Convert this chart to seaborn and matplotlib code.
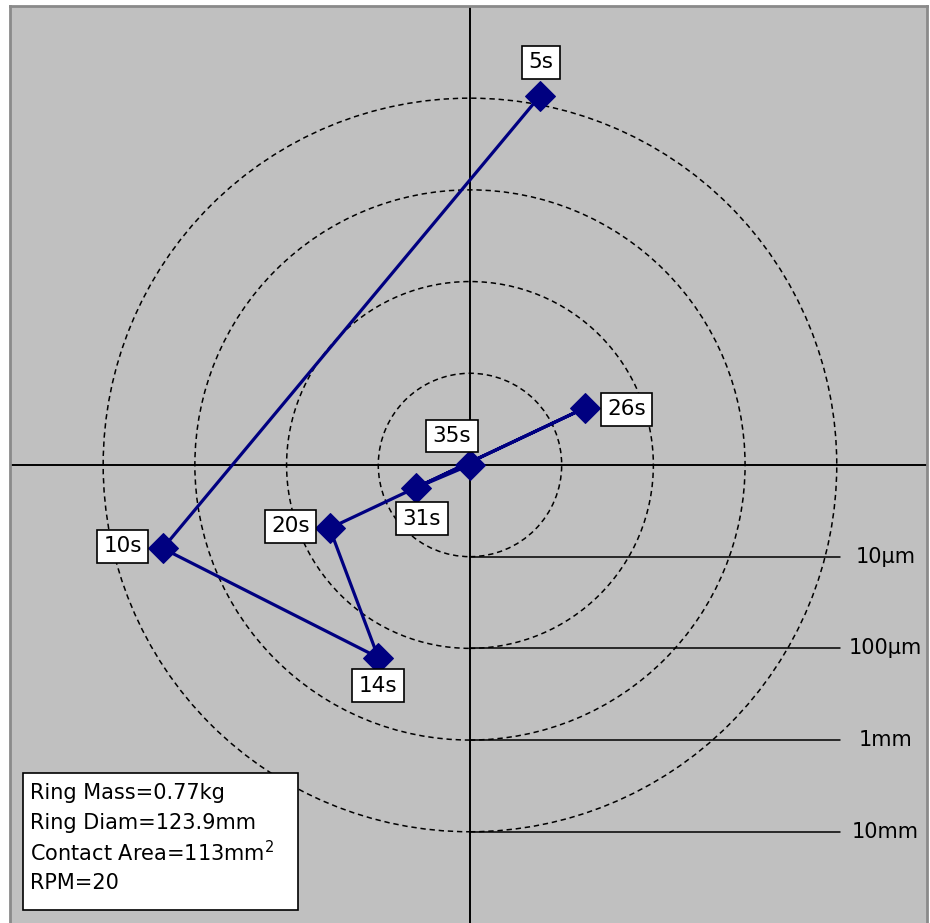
import matplotlib
matplotlib.use("Agg")
import matplotlib.pyplot as plt
import seaborn as sns
import pandas as pd
from matplotlib.patches import Circle, Rectangle

# ---- data (log-radius polar plot coordinates, 1 unit = 1 decade) ----
labels = ["5s", "10s", "14s", "20s", "26s", "31s", "35s"]
x_vals = [0.76, -3.35, -1.00, -1.53, 1.25, -0.59, 0.00]
y_vals = [4.02, -0.91, -2.10, -0.69, 0.62, -0.25, 0.00]
label_dx = [1, -40, 0, -39, 42, 6, -18]      # label offsets in pixels
label_dy = [34, 2, -28, 2, -1, -31, 29]
ring_levels = [1, 2, 3, 4]
ring_labels = ["10µm", "100µm", "1mm", "10mm"]
info_lines = ["Ring Mass=0.77kg", "Ring Diam=123.9mm",
              "Contact Area=113mm$^2$", "RPM=20"]

df = pd.DataFrame({"x": x_vals, "y": y_vals, "label": labels})

sns.set_style("white")
plt.rcParams["font.family"] = ["DejaVu Sans"]
plt.rcParams["text.color"] = "black"

fig = plt.figure(figsize=(9.30, 9.23), dpi=100)
ax = fig.add_axes([10 / 930, 0, 917 / 930, 917 / 923])
ax.set_facecolor("#c0c0c0")
ax.set_xlim(-5.016, 4.984)
ax.set_ylim(-4.995, 5.005)
ax.set_aspect("equal")
ax.set_xticks([])
ax.set_yticks([])
for s in ["left", "top", "right"]:
    ax.spines[s].set_color("#8a8a8a")
    ax.spines[s].set_linewidth(2)
ax.spines["bottom"].set_visible(False)

# crosshair
ax.axhline(0, color="black", lw=1.4, zorder=1)
ax.axvline(0, color="black", lw=1.4, zorder=1)

# dashed rings and scale lines
for r, lab in zip(ring_levels, ring_labels):
    ax.add_patch(Circle((0, 0), r, fill=False, ec="black", lw=1.1,
                        ls=(0, (3.5, 2.5)), zorder=1))
    ax.plot([0, 4.03], [-r, -r], color="black", lw=1.1, zorder=1)
    ax.text(4.53, -r, lab, ha="center", va="center", fontsize=15, color="black")

# trajectory
sns.lineplot(data=df, x="x", y="y", sort=False, estimator=None, ax=ax,
             color="#000080", lw=2.3, marker="D", markersize=15,
             markeredgecolor="#000080", zorder=3)
ax.set_xlabel("")
ax.set_ylabel("")

for lab, xv, yv, dx, dy in zip(labels, x_vals, y_vals, label_dx, label_dy):
    ax.annotate(lab, (xv, yv), xytext=(dx, dy), textcoords="offset pixels",
                ha="center", va="center", fontsize=15.5, zorder=4, color="black",
                bbox=dict(boxstyle="square,pad=0.3", fc="white", ec="black", lw=1.2))

# info box
ax.add_patch(Rectangle((0.0142, 0.0142), 0.314 - 0.0142, 0.1636 - 0.0142,
                       transform=ax.transAxes, fc="white", ec="black", lw=1.2, zorder=4))
for i, line in enumerate(info_lines):
    ax.text(0.0218, 0.1418 - i * 0.0327, line, transform=ax.transAxes,
            ha="left", va="center", fontsize=15, zorder=5, color="black")

fig.savefig("out.png", dpi=100)
